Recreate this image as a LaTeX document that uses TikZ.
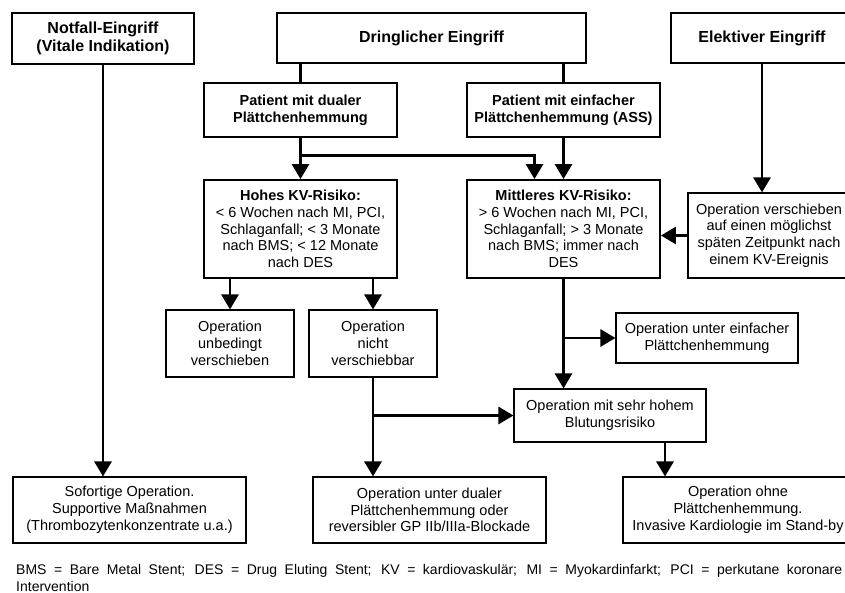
\documentclass[tikz,border=0pt]{standalone}
\usepackage{fontspec}
\setmainfont{Liberation Sans}
\usetikzlibrary{arrows.meta}

\tikzset{
  box/.style={draw, align=center, inner sep=0pt, font=\fontsize{14.5}{16.8}\selectfont},
  heavy/.style={box, line width=1.8pt},
  light/.style={box, line width=1.1pt},
  title/.style={font=\fontsize{16}{18.5}\selectfont\bfseries},
  flow/.style={line width=2.8pt, -{Triangle[width=17pt,length=15pt]}},
  link/.style={line width=2.8pt}
}

\begin{document}
\begin{tikzpicture}[x=1pt, y=-1pt]
  \useasboundingbox (0, 0) rectangle (845, 593);
  \clip (0, 0) rectangle (845, 593);

  \node[heavy, title, minimum width=182pt, minimum height=51pt] (notfall) at (103, 38.5) {Notfall-Eingriff\\(Vitale Indikation)};
  \node[heavy, title, minimum width=309pt, minimum height=50pt] (dringlich) at (431.5, 38) {Dringlicher Eingriff};
  \node[heavy, title, minimum width=182pt, minimum height=50pt] (elektiv) at (762, 38) {Elektiver Eingriff};

  \node[heavy, minimum width=193pt, minimum height=54pt] (dual) at (300.5, 110) {\bfseries Patient mit dualer\\\bfseries Plättchenhemmung};
  \node[heavy, minimum width=193pt, minimum height=54pt] (einfach) at (563.5, 110) {\bfseries Patient mit einfacher\\\bfseries Plättchenhemmung (ASS)};

  \node[heavy, minimum width=193pt, minimum height=98pt] (hohes) at (300.5, 229) {\textbf{Hohes KV-Risiko:}\\< 6 Wochen nach MI, PCI,\\Schlaganfall; < 3 Monate\\nach BMS; < 12 Monate\\nach DES};
  \node[heavy, minimum width=193pt, minimum height=98pt] (mittleres) at (563.5, 229) {\textbf{Mittleres KV-Risiko:}\\> 6 Wochen nach MI, PCI,\\Schlaganfall; > 3 Monate\\nach BMS; immer nach\\DES};
  \node[light, minimum width=162pt, minimum height=85pt] (verschieben) at (769, 235.5) {Operation verschieben\\auf einen möglichst\\späten Zeitpunkt nach\\einem KV-Ereignis};

  \node[light, minimum width=128pt, minimum height=67pt] (unbedingt) at (230, 343.5) {Operation\\unbedingt\\verschieben};
  \node[light, minimum width=128pt, minimum height=67pt] (nichtversch) at (373, 343.5) {Operation\\nicht\\verschiebbar};
  \node[light, minimum width=182pt, minimum height=50pt] (einfachop) at (707, 338) {Operation unter einfacher\\Plättchenhemmung};
  \node[light, minimum width=192pt, minimum height=53pt] (blutung) at (610, 415.5) {Operation mit sehr hohem\\Blutungsrisiko};

  \node[light, minimum width=233pt, minimum height=66pt] (sofort) at (129.5, 510) {Sofortige Operation.\\Supportive Maßnahmen\\(Thrombozytenkonzentrate u.a.)};
  \node[light, minimum width=233pt, minimum height=66pt] (dualop) at (429.5, 510) {Operation unter dualer\\Plättchenhemmung oder\\reversibler GP IIb/IIIa-Blockade};
  \node[light, minimum width=230pt, minimum height=66pt] (ohne) at (738, 510) {Operation ohne\\Plättchenhemmung.\\Invasive Kardiologie im Stand-by};

  \node[anchor=north west, text width=826pt, align=justify, inner sep=0pt, font=\fontsize{14}{17}\selectfont] (legende) at (16, 564) {BMS = Bare Metal Stent; DES = Drug Eluting Stent; KV = kardiovaskulär; MI = Myokardinfarkt; PCI = perkutane koronare\linebreak Intervention};

  \coordinate (knick) at (dual.south |- 0, 155.5);

  \draw[link] (dual.north |- dringlich.south) -- (dual.north);
  \draw[link] (einfach.north |- dringlich.south) -- (einfach.north);
  \draw[flow] (notfall.south) -- (notfall.south |- sofort.north);
  \draw[flow] (dual.south) -- (hohes.north);
  \draw[flow] (knick) -| ([xshift=-29pt]mittleres.north);
  \draw[flow] (einfach.south) -- (mittleres.north);
  \draw[flow] (elektiv.south) -- (elektiv.south |- verschieben.north);
  \draw[flow] (verschieben.west) -- (verschieben.west -| mittleres.east);
  \draw[flow] (hohes.south -| unbedingt.north) -- (unbedingt.north);
  \draw[flow] (hohes.south -| nichtversch.north) -- (nichtversch.north);
  \draw[flow] (mittleres.south) -- (mittleres.south |- blutung.north);
  \draw[flow] (mittleres.south |- einfachop.west) -- (einfachop.west);
  \draw[flow] (nichtversch.south) -- (nichtversch.south |- dualop.north);
  \draw[flow] (nichtversch.south |- blutung.west) -- (blutung.west);
  \draw[flow] ([xshift=55pt]blutung.south) -- ([xshift=55pt]blutung.south |- ohne.north);
\end{tikzpicture}
\end{document}
